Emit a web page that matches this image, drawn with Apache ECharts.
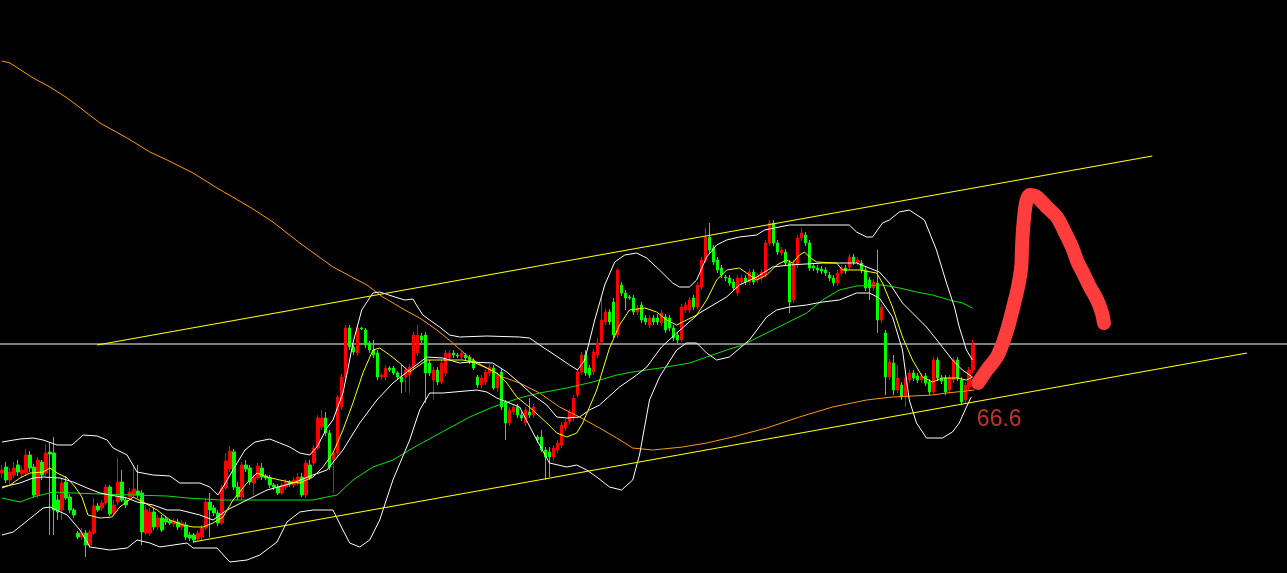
<!DOCTYPE html>
<html><head><meta charset="utf-8">
<style>html,body{margin:0;padding:0;background:#000;overflow:hidden}#c{width:1287px;height:573px}</style>
<script src="https://cdn.jsdelivr.net/npm/echarts@6/dist/echarts.min.js"></script>
</head><body><div id="c"></div>
<script>
// ---- candle data (bar index = position in arrays) ----
const opens = [100,106,93,98,108,99,100,118,106,78,111,100,121,120,73,63,91,76,63,40,36,40,28,40,67,65,70,86,60,71,91,73,76,78,82,80,40,40,61,46,55,54,52,49,51,46,48,38,38,34,36,45,71,65,60,50,85,104,121,86,76,108,105,90,95,105,97,95,88,86,80,86,91,88,90,96,78,108,110,125,146,155,140,113,120,166,196,245,226,220,245,243,230,223,220,196,196,205,205,200,196,196,198,206,220,237,238,210,193,203,191,200,215,220,218,216,218,216,213,196,188,191,200,205,185,201,171,150,161,166,158,150,161,158,136,136,123,121,116,123,128,145,151,155,178,201,218,205,201,218,231,251,261,271,238,288,280,276,275,261,268,255,248,255,255,250,256,255,245,238,233,263,263,275,266,286,313,336,325,313,305,296,295,291,280,291,295,291,301,293,295,298,330,350,330,320,321,310,273,308,335,338,330,307,305,304,303,298,295,290,300,305,306,316,310,310,303,293,285,290,253,240,196,210,183,188,176,193,200,197,193,197,191,181,213,195,195,183,193,213,193,173,186,203];
const closes = [103,93,101,105,101,103,118,105,78,113,98,120,119,63,61,90,75,63,58,36,40,28,41,67,63,70,86,59,68,91,73,68,81,84,78,41,63,61,46,55,43,51,50,52,46,50,36,35,33,40,45,71,63,60,50,85,112,122,86,76,108,104,91,96,107,96,95,88,86,80,88,91,89,93,96,78,110,95,125,155,155,140,106,120,176,196,245,226,221,245,244,228,223,218,196,198,205,203,200,196,191,203,206,238,238,233,200,200,203,191,210,220,220,218,217,220,215,211,205,188,195,201,206,185,198,166,150,163,166,158,155,163,158,166,133,123,116,116,125,130,148,151,161,175,201,218,200,198,221,230,253,261,251,238,303,280,275,275,261,265,253,251,255,251,251,260,243,245,235,233,266,268,273,266,288,313,336,323,311,303,298,295,290,285,295,295,291,301,291,297,301,330,350,330,321,323,310,271,310,335,340,330,305,305,303,302,300,295,290,300,305,302,316,311,313,303,285,285,291,253,266,196,211,183,195,176,195,200,195,193,197,190,181,213,195,192,181,195,213,195,171,188,203,228];
const lows = [95,90,89,95,97,95,97,101,75,75,93,97,38,38,53,53,73,60,55,34,33,16,25,38,61,62,68,57,57,68,71,65,73,76,75,28,38,37,43,43,41,48,48,46,43,43,33,32,30,32,33,43,36,57,47,48,83,101,83,73,73,101,88,78,93,93,93,85,83,78,78,83,86,85,87,76,75,93,107,123,143,137,103,80,117,163,193,223,218,217,243,225,220,215,193,193,193,201,198,194,180,181,180,203,217,230,170,197,173,188,189,197,213,215,215,214,213,209,203,185,185,188,197,183,181,163,133,147,158,155,152,147,155,155,130,121,93,96,113,120,125,142,148,152,175,198,197,195,198,215,228,248,248,235,235,277,263,273,258,258,250,248,245,248,248,247,240,242,232,230,231,260,260,263,263,283,310,320,308,300,295,292,287,282,277,288,288,288,288,290,292,295,327,327,318,317,307,260,270,305,332,327,302,302,300,299,297,292,287,287,297,299,303,308,307,300,282,273,282,240,250,178,193,178,180,173,166,190,192,190,190,187,178,178,192,189,178,180,190,192,168,170,183,200];
const highs = [108,111,105,111,113,107,124,122,109,116,113,129,131,136,78,95,97,79,65,42,45,43,43,75,70,73,89,88,73,115,103,76,85,108,108,83,68,65,65,58,58,57,54,55,54,53,51,41,40,43,48,75,80,68,63,88,120,127,124,91,111,113,108,99,110,110,99,98,90,89,91,94,93,96,100,100,113,113,128,158,163,161,143,120,178,199,248,248,228,248,246,245,232,233,223,200,208,207,207,202,208,206,209,241,248,240,241,213,206,206,213,223,223,223,220,222,220,218,215,198,198,204,209,208,201,205,173,166,169,169,161,166,175,169,138,143,126,126,128,133,151,154,164,178,204,221,223,208,224,235,275,264,264,275,305,291,283,278,278,268,271,258,258,258,259,263,259,258,248,241,269,271,276,278,291,316,345,350,328,316,308,298,298,294,298,298,298,304,304,300,304,333,353,353,333,326,324,313,313,338,345,341,333,310,308,307,306,301,298,303,308,308,319,319,316,313,306,296,294,323,269,243,214,218,208,191,198,203,203,200,200,200,194,216,216,198,198,198,216,216,196,191,206,233];

// ---- indicator lines: [bar index, price] ----
const bollUpper = [[0,131],[4.5,134],[7.8,135],[10.3,133],[13.8,128],[17.5,128],[20.3,138],[23.8,137],[26.3,133],[27.8,125],[31.3,118],[33.8,101],[37.8,98],[42,97],[44.5,90],[49.5,90],[52,86],[54,78],[55.3,86],[58.8,110],[60.8,123],[63.3,131],[67,134],[69.5,130],[72,126],[74.5,120],[77,118],[78.8,126],[81.3,145],[82.8,153],[85.3,180],[86.5,203],[87.8,230],[90,263],[92.8,280],[94.5,281],[98.3,276],[100.8,273],[102.8,274],[104,266],[105.3,258],[107,253],[109.5,246],[112,238],[114.5,236],[121.3,237],[129.5,236],[132,235],[134.5,228],[138.3,218],[142,208],[144,203],[145.8,213],[148.3,253],[150.8,288],[153.3,311],[155.8,318],[158.8,320],[161.3,315],[164.5,303],[167.8,290],[169.5,286],[172,286],[173.8,293],[176.3,316],[178.8,328],[181.3,333],[184.5,336],[188.8,338],[190.8,343],[197,348],[201.3,348],[212,348],[213.8,341],[216.3,336],[217.8,336],[220.3,350],[222,353],[224.5,361],[227,363],[230.8,353],[233.8,323],[236.3,290],[238.3,266],[239.5,246],[241.3,223],[242.8,213]];
const bollMid = [[0,86],[4.5,90],[7.8,95],[10.3,96],[14.5,95],[17.8,91],[21.3,85],[24.5,80],[27,78],[31.3,75],[33.8,71],[37.8,68],[41.3,63],[44.5,63],[49.5,58],[52.8,53],[56.3,63],[61.3,73],[66.3,83],[72.8,90],[77.8,98],[81.3,103],[85.3,123],[89.5,150],[93.8,173],[97.8,190],[102,203],[106.3,216],[110.3,215],[114.5,210],[117,211],[122.8,210],[126.3,201],[129.5,190],[132.8,178],[136.3,168],[138.8,156],[141.3,155],[144.5,156],[147,163],[149.5,168],[154.5,186],[158.8,198],[161.3,206],[165,226],[168.8,240],[174.5,260],[181.3,276],[184.5,288],[188.8,296],[192.8,306],[197,308],[205.3,310],[213.8,310],[217,305],[219.5,301],[222,290],[225.3,270],[228.8,256],[231.3,246],[234.5,230],[237.8,213],[240.3,203],[242.8,196]];
const bollLower = [[0,38],[2.8,41],[10.3,65],[12,66],[16.3,58],[19.5,43],[22,26],[27,23],[31.3,25],[33.8,33],[37,30],[39.5,26],[46.3,30],[47.8,25],[53.8,25],[57,11],[61.3,13],[64.5,18],[68.8,31],[71.3,51],[74.5,61],[77.8,63],[82.8,63],[85.3,43],[87,30],[89.5,26],[92,33],[94.5,53],[97.8,93],[102,133],[104.5,163],[107,180],[110.3,180],[118.8,183],[121.3,181],[123.8,175],[129.5,166],[133.8,133],[137,110],[141.3,106],[143.8,108],[146.3,103],[148.8,96],[152,86],[155,83],[157.8,93],[159.5,118],[162,173],[164.5,196],[168.8,223],[171.3,230],[173.8,230],[176.3,220],[178.8,213],[182,216],[187,233],[191.3,256],[193.8,263],[197,266],[201.3,268],[205.3,271],[209.5,273],[213.8,280],[217,280],[219.5,275],[222.8,256],[225.3,223],[227,173],[228.8,150],[231.3,135],[235.3,135],[237.8,141],[239.5,150],[241.3,166],[242.5,176]];
const maShort = [[0,85],[2,88],[4.5,95],[7,100],[10.3,101],[12,105],[13.8,100],[16.3,95],[18.3,86],[20,76],[21.5,58],[24.5,55],[27.5,56],[29.5,66],[32.8,76],[35.3,71],[38.8,63],[42,53],[45.3,48],[47.8,46],[50.3,46],[52.8,50],[55.3,56],[57.8,73],[61.3,90],[63.8,100],[66.3,96],[69.5,93],[72,91],[74.5,90],[77.8,96],[80.3,106],[82.8,120],[85.3,143],[87.8,170],[90.3,200],[92.8,223],[94.5,225],[97,218],[99.5,210],[102,201],[103.8,206],[106.3,213],[111.3,213],[115.3,213],[117.8,211],[121.3,205],[123.8,200],[126.3,190],[128.8,176],[132.8,163],[136.3,150],[138.8,140],[141.3,136],[143.8,140],[145.3,150],[147,166],[148.8,183],[150.3,203],[152,225],[154.5,248],[157,263],[160.8,265],[163.8,261],[166.3,253],[168.8,248],[171.3,253],[173.8,258],[176.3,273],[178.8,293],[181.3,303],[184.5,305],[186.3,300],[188.8,293],[191.3,298],[193.8,308],[196.3,313],[197.8,310],[199.5,318],[200.8,321],[202,316],[203.8,311],[208.8,310],[210.3,303],[214.5,303],[218.8,300],[220.3,290],[222.8,266],[225.3,236],[227.8,213],[230.3,196],[232.8,191],[235.3,195],[238.8,195],[241.3,193],[242.8,196]];
const maMid = [[0,75],[4.5,71],[7.8,76],[12.8,81],[17.8,80],[24.5,79],[32.8,78],[41.3,77],[46.3,75],[54.5,73],[72.8,73],[77.8,73],[81.3,76],[83.8,78],[87.8,93],[92.8,106],[97.8,113],[102.8,125],[107.8,136],[117,156],[122.8,166],[129.5,175],[134.5,180],[141.3,185],[147.8,191],[153.8,198],[157.8,201],[166.3,206],[172,210],[176.3,216],[181.3,223],[185.3,228],[191.3,240],[196.3,250],[201.3,260],[205.3,273],[209.5,283],[213.8,287],[220.3,288],[224.5,285],[228.8,281],[232.8,278],[237,273],[240.3,270],[242.8,265]];
const maLong = [[0,512],[2,510],[7.8,495],[12,486],[16.3,475],[20.3,463],[24.5,450],[31.3,435],[37,421],[41.3,413],[47.8,400],[53.8,385],[62,366],[67.8,351],[74.5,330],[82.8,306],[91.3,288],[95.3,276],[100.8,263],[104.5,255],[108.8,243],[112.8,230],[117,215],[121.3,205],[125.3,196],[129.5,190],[134.5,180],[139.5,166],[144.5,156],[149.5,145],[153.8,135],[157.8,125],[162.8,123],[170.3,126],[176.3,130],[182.8,136],[191.3,145],[199.5,156],[207.8,166],[216.3,173],[222.8,176],[232.8,178],[236.3,180],[241.3,182],[243.3,183]];

// ---- drawn objects ----
const channelUpper = [[23.8,228],[287.8,417]];
const channelLower = [[47.8,31],[311.5,220]];
const levelLine = [[-0.5,229],[321.5,229]];
const handDrawn = [[244.2,190],[246.4,203],[248.9,216],[250.4,230],[251.7,246],[253.0,266],[254.2,286],[255.0,306],[255.2,326],[255.5,346],[256.2,370],[257.2,378],[258.9,376],[261.4,366],[263.9,356],[265.9,341],[267.7,326],[269.2,310],[270.5,300],[272.2,286],[274.0,273],[275.2,260],[275.7,250]];
const noteText = '66.6';
const notePos = [249.5,153];

const candles = opens.map((o, i) => [i, o, closes[i], lows[i], highs[i]]);

function line(data, color, width, z, extra) {
  return Object.assign({
    type: 'line', data: data, symbol: 'none', silent: true, z: z,
    lineStyle: { color: color, width: width }, animation: false
  }, extra || {});
}

const chart = echarts.init(document.getElementById('c'), null, { renderer: 'canvas' });
chart.setOption({
  backgroundColor: '#000000',
  animation: false,
  grid: { left: 0, right: 0, top: 0, bottom: 0 },
  xAxis: { type: 'value', min: -0.5, max: 321.5, show: false, splitLine: { show: false } },
  yAxis: { type: 'value', min: 0, max: 573, show: false, splitLine: { show: false } },
  series: [
    line(levelLine, '#ffffff', 1, 1),
    {
      type: 'candlestick', data: candles, barWidth: 3, z: 2, silent: true,
      itemStyle: { color: '#ff0000', color0: '#00ff00', borderColor: '#ff0000', borderColor0: '#00ff00', borderWidth: 1 }
    },
    line(maLong, '#ff9900', 1, 3),
    line(maMid, '#00e600', 1, 3),
    line(bollUpper, '#ffffff', 1, 3),
    line(bollMid, '#ffffff', 1, 3),
    line(bollLower, '#ffffff', 1, 3),
    line(maShort, '#ffff00', 1, 4),
    line(channelUpper, '#ffff00', 1.2, 4),
    line(channelLower, '#ffff00', 1.2, 4),
    line(handDrawn, '#ff3d3d', 14, 6, { smooth: 0.3, lineStyle: { color: '#ff3d3d', width: 14, cap: 'round', join: 'round' } }),
    {
      type: 'scatter', data: [notePos], symbolSize: 2, z: 7, silent: true,
      itemStyle: { color: 'rgba(0,0,0,0)' },
      label: { show: true, position: 'inside', formatter: noteText, color: '#e8403f', fontSize: 23, fontFamily: 'Liberation Sans, Arial, sans-serif' }
    }
  ]
});
</script>
</body></html>
